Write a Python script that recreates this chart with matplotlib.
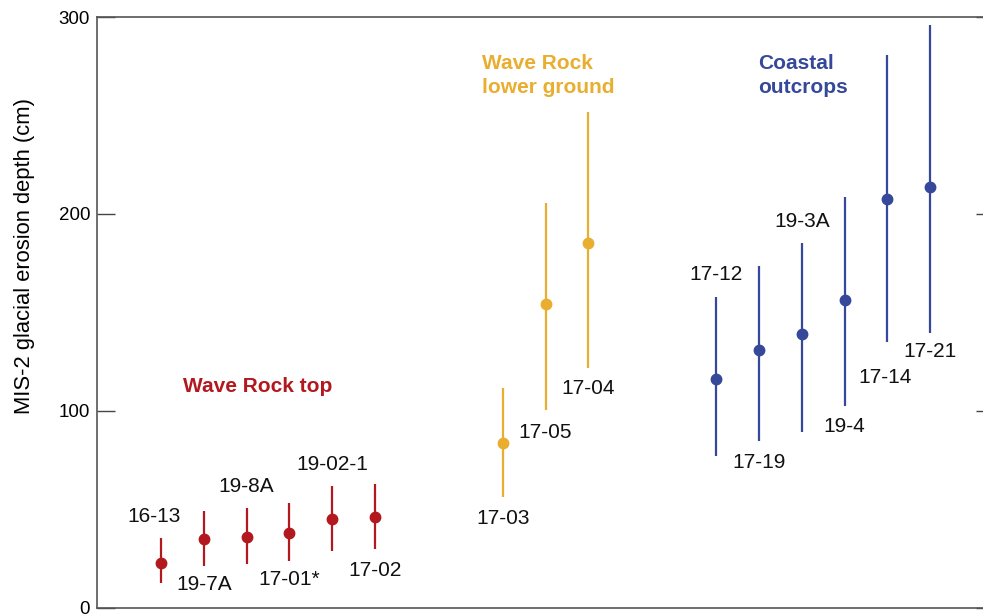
import matplotlib
matplotlib.use("Agg")
import matplotlib.pyplot as plt

plt.rcParams["font.family"] = ["Liberation Sans", "DejaVu Sans"]

# Wave Rock top
top_names = ["16-13", "19-7A", "19-8A", "17-01*", "19-02-1", "17-02"]
top_x = [1, 2, 3, 4, 5, 6]
top_val = [23.0, 34.9, 36.0, 37.9, 45.0, 46.0]
top_lo = [12.5, 21.5, 22.5, 24.0, 29.1, 29.8]
top_hi = [35.4, 49.2, 50.9, 53.1, 62.1, 62.9]

# Wave Rock lower ground
low_names = ["17-03", "17-05", "17-04"]
low_x = [9, 10, 11]
low_val = [83.9, 154.2, 185.4]
low_lo = [56.5, 100.5, 122.0]
low_hi = [111.5, 205.7, 251.8]

# Coastal outcrops
coast_names = ["17-12", "17-19", "19-3A", "19-4", "17-14", "17-21"]
coast_x = [14, 15, 16, 17, 18, 19]
coast_val = [116.1, 130.8, 139.1, 156.2, 207.4, 213.7]
coast_lo = [77.2, 84.9, 89.5, 102.4, 135.2, 139.4]
coast_hi = [158.0, 173.6, 185.1, 208.8, 280.7, 295.9]

RED = "#B3181F"
YELLOW = "#E9AE2F"
BLUE = "#36489A"

fig = plt.figure(figsize=(9.83, 6.14), dpi=100)
ax = fig.add_axes([0.0987, 0.0098, 0.9125, 0.9625])


def draw_group(xs, vals, lo, hi, color):
    yerr = [[v - l for v, l in zip(vals, lo)], [h - v for v, h in zip(vals, hi)]]
    ax.errorbar(xs, vals, yerr=yerr, fmt="o", color=color, ecolor=color,
                elinewidth=1.6, markersize=7.5, capsize=0, zorder=3)


draw_group(top_x, top_val, top_lo, top_hi, RED)
draw_group(low_x, low_val, low_lo, low_hi, YELLOW)
draw_group(coast_x, coast_val, coast_lo, coast_hi, BLUE)

# sample labels, placed next to their error bars
lab_kw = dict(fontsize=15, ha="center", va="center", color="#111111")
top_lab_y = [46.3, 11.8, 61.5, 14.4, 72.6, 18.9]
for x, name, y, dx in zip(top_x, top_names, top_lab_y, [-0.16, 0, 0, 0, 0, 0]):
    ax.text(x + dx, y, name, **lab_kw)

low_lab_y = [45.2, 89.3, 111.2]
for x, name, y in zip(low_x, low_names, low_lab_y):
    ax.text(x, y, name, **lab_kw)

coast_lab_y = [169.5, 74.1, 196.4, 92.0, 116.8, 130.0]
for x, name, y, dx in zip(coast_x, coast_names, coast_lab_y, [0, 0, 0, 0, -0.05, 0]):
    ax.text(x + dx, y, name, **lab_kw)

grp_kw = dict(fontsize=15, fontweight="bold", va="center", linespacing=1.38)
ax.text(3.27, 112.2, "Wave Rock top", color=RED, ha="center", **grp_kw)
ax.text(8.52, 270.3, "Wave Rock\nlower ground", color=YELLOW, ha="left", **grp_kw)
ax.text(14.98, 270.3, "Coastal\noutcrops", color=BLUE, ha="left", **grp_kw)

ax.set_xlim(-0.5, 20.5)
ax.set_ylim(0, 300)
ax.set_yticks([0, 100, 200, 300])
ax.set_xticks([])
ax.tick_params(axis="y", direction="in", length=13, width=1.0, color="#444444",
               labelsize=13.5, pad=5, right=True)
for sp in ax.spines.values():
    sp.set_color("#555555")
    sp.set_linewidth(1.2)
ax.set_ylabel("MIS-2 glacial erosion depth (cm)", fontsize=15.8)
ax.yaxis.set_label_coords(-0.069, 0.596)

fig.savefig("out.png", dpi=100)
